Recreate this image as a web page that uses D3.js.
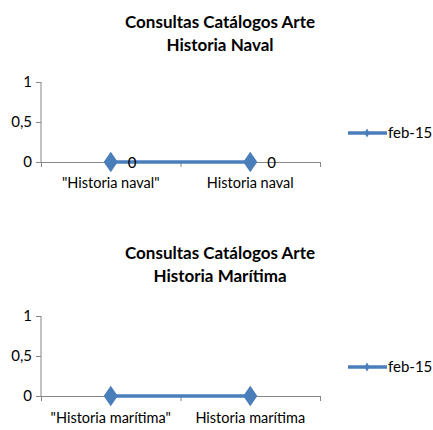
<!DOCTYPE html>
<html><head><meta charset="utf-8">
<script src="https://cdn.jsdelivr.net/npm/d3@7"></script>
<style>body{margin:0;background:#fff}svg{display:block}</style>
</head><body>
<script>
const seriesName = "feb-15";
const yTicks = [0, 0.5, 1];
const yTickLabels = ["0", "0,5", "1"];
const categoriesNaval = ["\"Historia naval\"", "Historia naval"];
const valuesNaval = [0, 0];
const categoriesMaritima = ["\"Historia marítima\"", "Historia marítima"];
const valuesMaritima = [0, 0];
const titleNaval = ["Consultas Catálogos Arte", "Historia Naval"];
const titleMaritima = ["Consultas Catálogos Arte", "Historia Marítima"];

const W = 433, H = 430;
const font = "Lato, 'Liberation Sans', sans-serif";
const blue = "#4A7EBB";
const axisColor = "#868686";
const svg = d3.select("body").append("svg").attr("width", W).attr("height", H);

function drawChart(oy, titleDy, labelDy, titles, cats, vals, showLabels) {
  const g = svg.append("g").attr("transform", `translate(0,${oy})`);
  g.selectAll("text.title").data(titles).join("text")
    .attr("x", 220).attr("y", (d, i) => 28 + titleDy + i * 23)
    .attr("text-anchor", "middle").attr("font-family", font)
    .attr("font-weight", "bold").attr("font-size", 17).attr("fill", "#000")
    .text(d => d);
  const x = d3.scaleBand().domain(cats).range([41, 320]);
  const y = d3.scaleLinear().domain([0, 1]).range([162, 82]);
  // y axis
  const ya = d3.axisLeft(y).tickValues(yTicks).tickSize(5)
    .tickFormat((d, i) => yTickLabels[i]);
  const yg = g.append("g").attr("transform", "translate(41,0)").call(ya);
  yg.select(".domain").attr("stroke", axisColor).attr("d", `M0,${y(1)}V${y(0)}`);
  yg.selectAll(".tick line").attr("stroke", axisColor);
  yg.selectAll(".tick text").attr("font-family", font).attr("font-size", 15)
    .attr("fill", "#000").attr("x", -9);
  // x axis
  const xg = g.append("g").attr("transform", `translate(0,${y(0)})`);
  xg.append("line").attr("x1", 41).attr("x2", 320).attr("y1", 0.5).attr("y2", 0.5).attr("stroke", axisColor);
  const bounds = [41, ...cats.map(c => x(c) + x.bandwidth())];
  xg.selectAll("line.t").data(bounds).join("line")
    .attr("x1", d => d + 0.5).attr("x2", d => d + 0.5).attr("y1", 0).attr("y2", 5).attr("stroke", axisColor);
  xg.selectAll("text.c").data(cats).join("text")
    .attr("x", d => x(d) + x.bandwidth() / 2).attr("y", 26 + labelDy)
    .attr("text-anchor", "middle").attr("font-family", font).attr("font-size", 14.5)
    .attr("fill", "#000").text(d => d);
  // line
  const pts = cats.map((c, i) => [x(c) + x.bandwidth() / 2, y(vals[i])]);
  g.append("path").attr("d", d3.line()(pts)).attr("fill", "none")
    .attr("stroke", blue).attr("stroke-width", 3.5);
  const diamond = d3.symbol().type(d3.symbolDiamond).size(120);
  g.selectAll("path.m").data(pts).join("path")
    .attr("transform", d => `translate(${d[0]},${d[1]}) scale(1.2,1)`)
    .attr("d", diamond).attr("fill", blue);
  if (showLabels) {
    g.selectAll("text.v").data(pts).join("text")
      .attr("x", d => d[0] + 17).attr("y", d => d[1] + 5.5)
      .attr("font-family", font).attr("font-size", 15).attr("fill", "#000")
      .text((d, i) => String(vals[i]));
  }
  // legend
  const ly = 133;
  g.append("line").attr("x1", 348).attr("x2", 387).attr("y1", ly).attr("y2", ly)
    .attr("stroke", blue).attr("stroke-width", 3.5);
  g.append("path").attr("transform", `translate(367,${ly})`)
    .attr("d", d3.symbol().type(d3.symbolDiamond).size(24)).attr("fill", blue);
  g.append("text").attr("x", 388).attr("y", ly + 5).attr("font-family", font)
    .attr("font-size", 15).attr("fill", "#000").text(seriesName);
}

drawChart(0, 0, 0, titleNaval, categoriesNaval, valuesNaval, true);
drawChart(234, -3, 1, titleMaritima, categoriesMaritima, valuesMaritima, false);
</script>
</body></html>
